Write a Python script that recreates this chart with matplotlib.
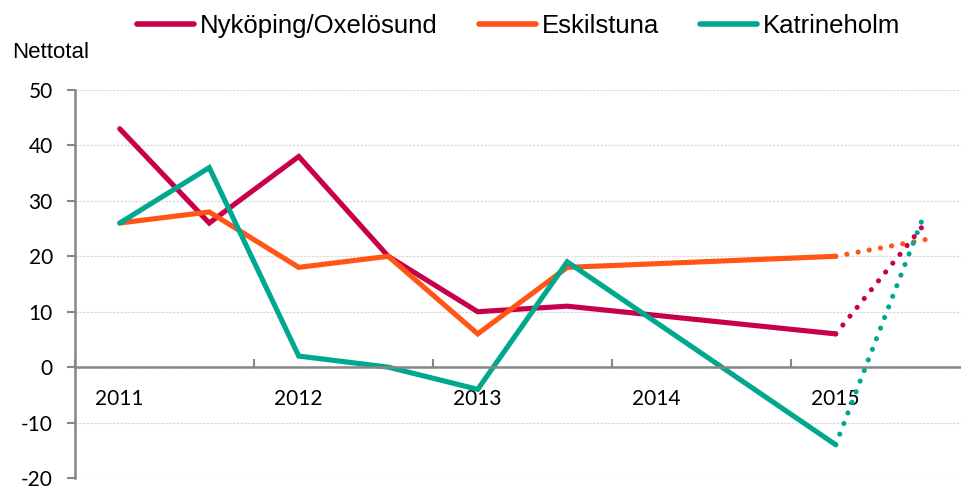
import numpy as np
import matplotlib
matplotlib.use('Agg')
import matplotlib.pyplot as plt

# half-year positions, 2011 H1 .. 2015 H2 (2014 missing)
periods = ['2011H1', '2011H2', '2012H1', '2012H2', '2013H1', '2013H2',
           '2014H1', '2014H2', '2015H1', '2015H2']
year_labels = ['2011', '2012', '2013', '2014', '2015']

nykoping = [43, 26, 38, 20, 10, 11, np.nan, np.nan, 6, 26]
eskilstuna = [26, 28, 18, 20, 6, 18, np.nan, np.nan, 20, 23]
katrineholm = [26, 36, 2, 0, -4, 19, np.nan, np.nan, -14, 28]

series = [('Nyköping/Oxelösund', nykoping, '#C8004B'),
          ('Eskilstuna', eskilstuna, '#FF5515'),
          ('Katrineholm', katrineholm, '#00A890')]

plt.rcParams['font.family'] = ['Liberation Sans', 'DejaVu Sans']
plt.rcParams['axes.unicode_minus'] = False

fig = plt.figure(figsize=(9.61, 4.88), dpi=100)
ax = fig.add_axes([75 / 961, 1 - 478 / 488, 1 - 75 / 961, (478 - 90) / 488])

x = np.arange(len(periods))
for name, vals, col in series:
    v = np.array(vals, dtype=float)
    ok = ~np.isnan(v)
    xs, ys = x[ok], v[ok]
    # actual values: solid, last (forecast) step: dotted
    ax.plot(xs[:-1], ys[:-1], color=col, lw=3.7, solid_capstyle='round',
            solid_joinstyle='miter', label=name)
    ax.plot(xs[-2:], ys[-2:], color=col, lw=3.7, linestyle=(0, (0.01, 2.2)),
            dash_capstyle='round')

ax.set_xlim(-0.5, 9.4)
ax.set_ylim(-20, 50)
ax.set_yticks(range(-20, 51, 10))
ax.yaxis.grid(True, color='#d9d9d9', linestyle=(0, (2, 1)), lw=0.9)
ax.set_axisbelow(True)

for s in ['top', 'right']:
    ax.spines[s].set_visible(False)
ax.spines['bottom'].set_position(('data', 0))
for s in ['bottom', 'left']:
    ax.spines[s].set_color('#868686')
    ax.spines[s].set_linewidth(1.8)

ax.set_xticks([-0.5, 1.5, 3.5, 5.5, 7.5])
ax.set_xticklabels([])
ax.set_xticks([0, 2, 4, 6, 8], minor=True)
ax.set_xticklabels(year_labels, minor=True, fontfamily='Lato', fontsize=15)
ax.tick_params(axis='x', which='major', direction='in', length=6, width=1.5, color='#868686')
ax.tick_params(axis='x', which='minor', length=0, pad=16)
ax.tick_params(axis='y', direction='out', length=6, width=1.5, color='#868686',
               labelsize=15, pad=10)
for t in ax.get_yticklabels():
    t.set_fontfamily('Lato')

fig.text(12 / 961, 1 - 53 / 488, 'Nettotal', fontsize=16, va='center', ha='left')

leg = fig.legend(loc='center', bbox_to_anchor=(519 / 961, 1 - 26 / 488), ncol=3,
                 frameon=False, fontsize=18.5, handlelength=2.2, handletextpad=0.25,
                 columnspacing=1.6)
for h in leg.get_lines():
    h.set_linewidth(4)

fig.savefig('out.png', dpi=100)
